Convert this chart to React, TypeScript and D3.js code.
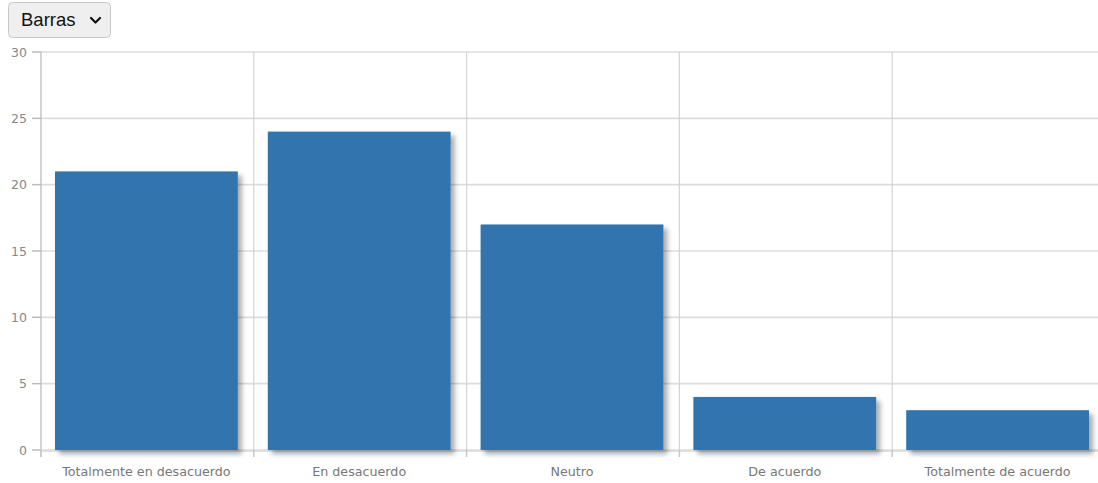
import React from "react";
import * as d3 from "d3";

const categories = [
  "Totalmente en desacuerdo",
  "En desacuerdo",
  "Neutro",
  "De acuerdo",
  "Totalmente de acuerdo",
];
const values = [21, 24, 17, 4, 3];
const yTicks = [0, 5, 10, 15, 20, 25, 30];
const selectLabel = "Barras";

const W = 1098;
const H = 483;
const left = 41;
const right = 1105;
const top = 52;
const bottom = 450;

export default function App() {
  const x = d3.scaleBand<string>().domain(categories).range([left, right]).paddingInner(0).paddingOuter(0);
  const y = d3.scaleLinear().domain([0, 30]).range([bottom, top]);
  const bw = x.bandwidth();
  const padL = 14;
  const padR = 16;
  const boundaries = d3.range(categories.length + 1).map((i) => left + i * bw);

  return (
    <div style={{ position: "fixed", left: 0, top: 0, width: W, height: H, background: "#fff" }}>
      <svg width={W} height={H} style={{ display: "block" }}>
        <defs>
          <filter id="shadow" x="-10%" y="-10%" width="130%" height="130%">
            <feDropShadow dx="4" dy="4" stdDeviation="2.6" floodColor="#000" floodOpacity="0.33" />
          </filter>
        </defs>
        {/* dropdown */}
        <g>
          <rect x={8.5} y={2.5} width={102} height={35} rx={4} fill="#efefef" stroke="#c8c8c8" />
          <text x={21} y={26} fontFamily="Liberation Sans, Arial, sans-serif" fontSize={18.5} fill="#111">
            {selectLabel}
          </text>
          <path d="M91 18 L95.5 22.5 L100 18" fill="none" stroke="#111" strokeWidth={2.2} strokeLinecap="round" strokeLinejoin="round" />
        </g>
        {/* grid */}
        {yTicks.map((t) => (
          <line key={"h" + t} x1={left} x2={W} y1={y(t)} y2={y(t)} stroke="#dcdcdc" strokeWidth={1.6} />
        ))}
        {boundaries.map((b, i) => (
          <line key={"v" + i} x1={b} x2={b} y1={top} y2={bottom} stroke="#d4d4d4" strokeWidth={1.2} />
        ))}
        {/* axes */}
        <line x1={left} x2={left} y1={top} y2={bottom + 7} stroke="#cccccc" strokeWidth={1.5} />
        <line x1={left} x2={W} y1={bottom + 1} y2={bottom + 1} stroke="#d8d8d8" strokeWidth={1.5} />
        {yTicks.map((t) => (
          <g key={"yt" + t}>
            <line x1={32} x2={left} y1={y(t)} y2={y(t)} stroke="#bbbbbb" strokeWidth={1.5} />
            <text x={27} y={y(t) + 4.5} textAnchor="end" fontFamily="DejaVu Sans, Verdana, sans-serif" fontSize={12.5} fill="#888">
              {t}
            </text>
          </g>
        ))}
        {boundaries.map((b, i) => (
          <line key={"xt" + i} x1={b} x2={b} y1={bottom} y2={bottom + 7} stroke="#c8c8c8" strokeWidth={1.5} />
        ))}
        {/* bars */}
        {categories.map((c, i) => (
          <rect
            key={c}
            x={(x(c) as number) + padL}
            y={y(values[i])}
            width={bw - padL - padR}
            height={bottom - y(values[i])}
            fill="#3275ae"
            filter="url(#shadow)"
          />
        ))}
        {/* x labels */}
        {categories.map((c) => (
          <text
            key={"xl" + c}
            x={(x(c) as number) + bw / 2 - 1}
            y={476}
            textAnchor="middle"
            fontFamily="DejaVu Sans, Verdana, sans-serif"
            fontSize={12.7}
            fill="#777"
          >
            {c}
          </text>
        ))}
      </svg>
    </div>
  );
}
